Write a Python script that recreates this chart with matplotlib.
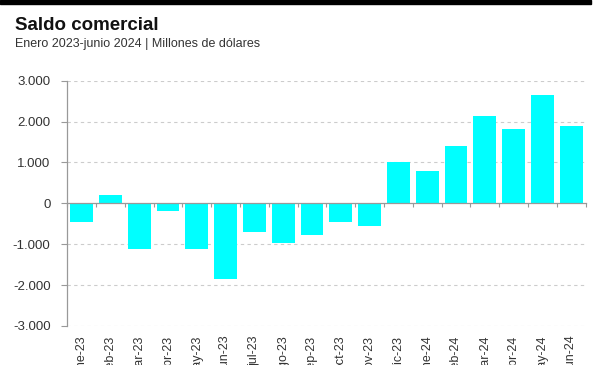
import matplotlib
matplotlib.use("Agg")
import matplotlib.pyplot as plt
import numpy as np

months = ['ene-23', 'feb-23', 'mar-23', 'abr-23', 'may-23', 'jun-23',
          'jul-23', 'ago-23', 'sep-23', 'oct-23', 'nov-23', 'dic-23',
          'ene-24', 'feb-24', 'mar-24', 'abr-24', 'may-24', 'jun-24']
saldo = [-450, 200, -1120, -200, -1130, -1850,
         -710, -980, -780, -450, -560, 1010,
         780, 1400, 2140, 1820, 2640, 1900]
yticks = [-3000, -2000, -1000, 0, 1000, 2000, 3000]
ytick_labels = ['-3.000', '-2.000', '-1.000', '0', '1.000', '2.000', '3.000']

plt.rcParams['font.family'] = ['Liberation Sans', 'DejaVu Sans']

fig = plt.figure(figsize=(6, 3.65), dpi=100)
ax = fig.add_axes([0.112, 0.107, 0.864, 0.672])

x = np.arange(len(months))
ax.bar(x, saldo, width=0.79, color='#00ffff', zorder=2)

ax.set_xlim(-0.5, len(months) - 0.5)
ax.set_ylim(-3000, 3000)

# dashed grid (zero handled by the spine)
ax.set_yticks(yticks)
ax.set_yticklabels(ytick_labels, fontsize=9.5, color='#333333')
for v in yticks:
    if v != 0:
        ax.axhline(v, linestyle=(0, (3, 3)), color='#cccccc', linewidth=0.8, zorder=1)
ax.tick_params(axis='y', length=4, color='#999999', width=0.8, pad=8)

# zero line = bottom spine, small ticks between categories
ax.spines['bottom'].set_position(('data', 0))
ax.spines['bottom'].set_color('#999999')
ax.spines['bottom'].set_linewidth(0.9)
ax.spines['bottom'].set_zorder(3)
ax.set_xticks([])
ax.set_xticks(np.arange(-0.5, len(months), 1.0), minor=True)
ax.tick_params(axis='x', which='minor', length=3, color='#999999', width=0.8)

for side in ['top', 'right']:
    ax.spines[side].set_visible(False)
ax.spines['left'].set_color('#999999')
ax.spines['left'].set_linewidth(0.9)

# month labels at the bottom, rotated
sec = ax.secondary_xaxis('bottom')
sec.set_xticks(x)
sec.set_xticklabels(months, rotation=90, fontsize=9, color='#333333',
                    va='top', ha='center')
sec.tick_params(axis='x', length=0, pad=7)
sec.spines['bottom'].set_visible(False)

# header
fig.patches.append(plt.Rectangle((0, 0.988), 0.985, 0.012, transform=fig.transFigure,
                                 color='black', zorder=10))
fig.text(0.025, 0.918, 'Saldo comercial', fontsize=13.5, fontweight='bold',
         color='#111111', va='baseline')
fig.text(0.025, 0.872, 'Enero 2023-junio 2024 | Millones de dólares', fontsize=9,
         color='#333333', va='baseline')

fig.savefig('out.png', dpi=100)
